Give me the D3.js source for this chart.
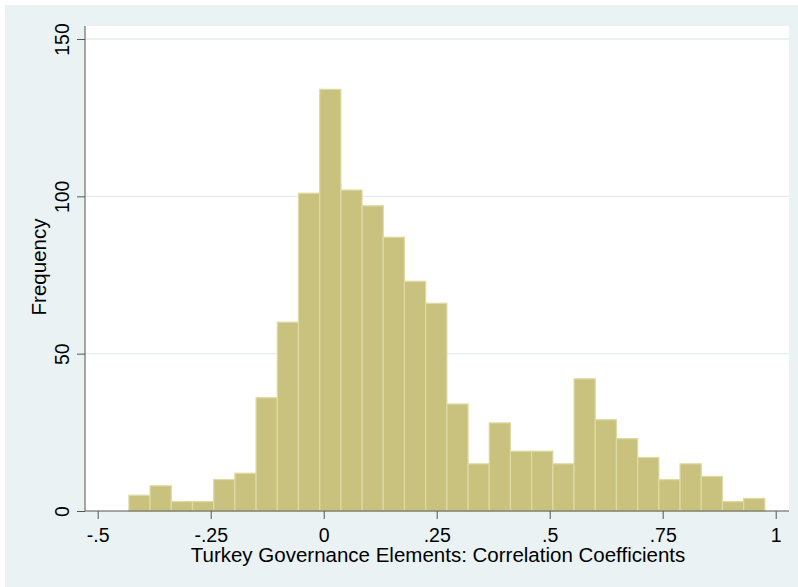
<!DOCTYPE html>
<html>
<head>
<meta charset="utf-8">
<script src="https://cdn.jsdelivr.net/npm/d3@7"></script>
<style>
  body { margin: 0; background: #fff; }
  svg { display: block; font-family: "Liberation Sans", Arial, sans-serif; }
</style>
</head>
<body>
<div class="chart"></div>
<script>
// histogram bins (Stata default: 30 bins from min to max)
const binStart = -0.431;
const binWidth = 0.04690;
const counts = [5, 8, 3, 3, 10, 12, 36, 60, 101, 134, 102, 97, 87, 73, 66,
                34, 15, 28, 19, 19, 15, 42, 29, 23, 17, 10, 15, 11, 3, 4];
const xTicks = [-0.5, -0.25, 0, 0.25, 0.5, 0.75, 1];
const xTickLabels = ["-.5", "-.25", "0", ".25", ".5", ".75", "1"];
const yTicks = [0, 50, 100, 150];

const W = 798, H = 587;
let plot = {left: 85, right: 789, top: 26, bottom: 511};

var svg = d3.select(".chart")
  .append("svg")
    .attr("width", W)
    .attr("height", H);

// outer graph region
svg.append("rect")
    .attr("x", 5).attr("y", 5)
    .attr("width", W - 5).attr("height", H - 5)
    .style("fill", "#eaf2f3");

// plot region
svg.append("rect")
    .attr("x", plot.left).attr("y", plot.top)
    .attr("width", plot.right - plot.left).attr("height", plot.bottom - plot.top)
    .style("fill", "#ffffff");

let x = d3.scaleLinear()
    .domain([-0.5, 1])
    .range([97.7, 775.7]);

let y = d3.scaleLinear()
    .domain([0, 150])
    .range([511, 39]);

// gridlines
svg.selectAll(".grid")
    .data(yTicks.filter(d => d > 0))
    .enter()
    .append("line")
      .attr("class", "grid")
      .attr("x1", plot.left).attr("x2", plot.right)
      .attr("y1", d => y(d)).attr("y2", d => y(d))
      .style("stroke", "#e3edef")
      .style("stroke-width", 1.3);

// bars
svg.selectAll(".bin")
    .data(counts)
    .enter()
    .append("rect")
      .attr("class", "bin")
      .attr("x", (d, i) => x(binStart + i * binWidth))
      .attr("width", (d, i) => x(binStart + (i + 1) * binWidth) - x(binStart + i * binWidth))
      .attr("y", d => y(d))
      .attr("height", d => y(0) - y(d))
      .style("fill", "#c9c27f")
      .style("stroke", "#dedaa3")
      .style("stroke-width", 1.2);

// y axis
let yAxis = svg.append("g")
    .attr("transform", "translate(" + plot.left + ",0)")
    .call(d3.axisLeft(y).tickValues(yTicks).tickSize(8).tickSizeOuter(0).tickFormat(d3.format("d")));
yAxis.select(".domain").remove();
yAxis.append("line")
    .attr("x1", 0).attr("x2", 0)
    .attr("y1", plot.top).attr("y2", plot.bottom)
    .style("stroke", "#555");
yAxis.selectAll(".tick line").style("stroke", "#555");
yAxis.selectAll(".tick text")
    .attr("x", 0).attr("dx", 0).attr("dy", 0)
    .attr("transform", "translate(-16,0) rotate(-90)")
    .attr("text-anchor", "middle")
    .style("font-size", "19.5px")
    .style("fill", "#000")
    .style("font-family", "Liberation Sans, Arial, sans-serif");

// x axis
let xAxis = svg.append("g")
    .attr("transform", "translate(0," + plot.bottom + ")")
    .call(d3.axisBottom(x).tickValues(xTicks).tickSize(8).tickSizeOuter(0)
      .tickFormat((d, i) => xTickLabels[i]));
xAxis.select(".domain").remove();
xAxis.append("line")
    .attr("x1", plot.left).attr("x2", plot.right)
    .attr("y1", 0).attr("y2", 0)
    .style("stroke", "#555");
xAxis.selectAll(".tick line").style("stroke", "#555");
xAxis.selectAll(".tick text")
    .attr("y", 30.5).attr("dy", 0)
    .style("font-size", "19.5px")
    .style("fill", "#000")
    .style("font-family", "Liberation Sans, Arial, sans-serif");

// axis titles
svg.append("text")
    .attr("x", 438)
    .attr("y", 562)
    .attr("text-anchor", "middle")
    .style("font-size", "20.5px")
    .text("Turkey Governance Elements: Correlation Coefficients");

svg.append("text")
    .attr("transform", "translate(45.5," + 267 + ") rotate(-90)")
    .attr("text-anchor", "middle")
    .style("font-size", "20.5px")
    .text("Frequency");
</script>
</body>
</html>
